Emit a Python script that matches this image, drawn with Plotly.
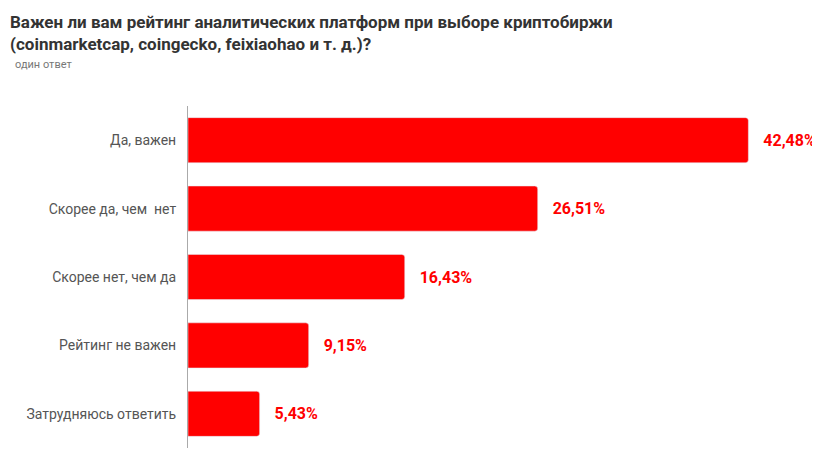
import plotly.graph_objects as go

categories = ["Да, важен", "Скорее да, чем  нет", "Скорее нет, чем да", "Рейтинг не важен", "Затрудняюсь ответить"]
values = [42.48, 26.51, 16.43, 9.15, 5.43]
labels = ["42,48%", "26,51%", "16,43%", "9,15%", "5,43%"]

fig = go.Figure(go.Bar(
    y=categories, x=values, orientation="h",
    marker=dict(color="#ff0000", cornerradius=3),
    text=["   " + l for l in labels], textposition="outside", cliponaxis=False,
    textfont=dict(color="#ff0000", size=16, family="Roboto", weight="bold"),
))
fig.update_layout(
    width=820, height=467, plot_bgcolor="white", paper_bgcolor="white",
    margin=dict(l=180, r=20, t=98, b=27, autoexpand=False),
    font=dict(family="Roboto", color="#555"),
    bargap=0.34, showlegend=False,
    annotations=[
        dict(text="<b>Важен ли вам рейтинг аналитических платформ при выборе криптобиржи<br>(coinmarketcap, coingecko, feixiaohao и т. д.)?</b>",
             xref="paper", yref="paper", x=-180/620, y=1 + 96/342, xanchor="left", yanchor="top",
             align="left", showarrow=False, font=dict(size=17, color="#333")),
        dict(text="один ответ", xref="paper", yref="paper", x=-175/620, y=1 + 50/342,
             xanchor="left", yanchor="top", showarrow=False, font=dict(size=11, color="#777")),
    ],
)
fig.update_xaxes(range=[0, 47], visible=False, automargin=False)
fig.update_yaxes(autorange="reversed", showline=True, linecolor="#aaa", linewidth=1, automargin=False,
                 ticks="", ticklabelstandoff=8, tickfont=dict(size=14, color="#555"))
fig.write_html("out.html")
